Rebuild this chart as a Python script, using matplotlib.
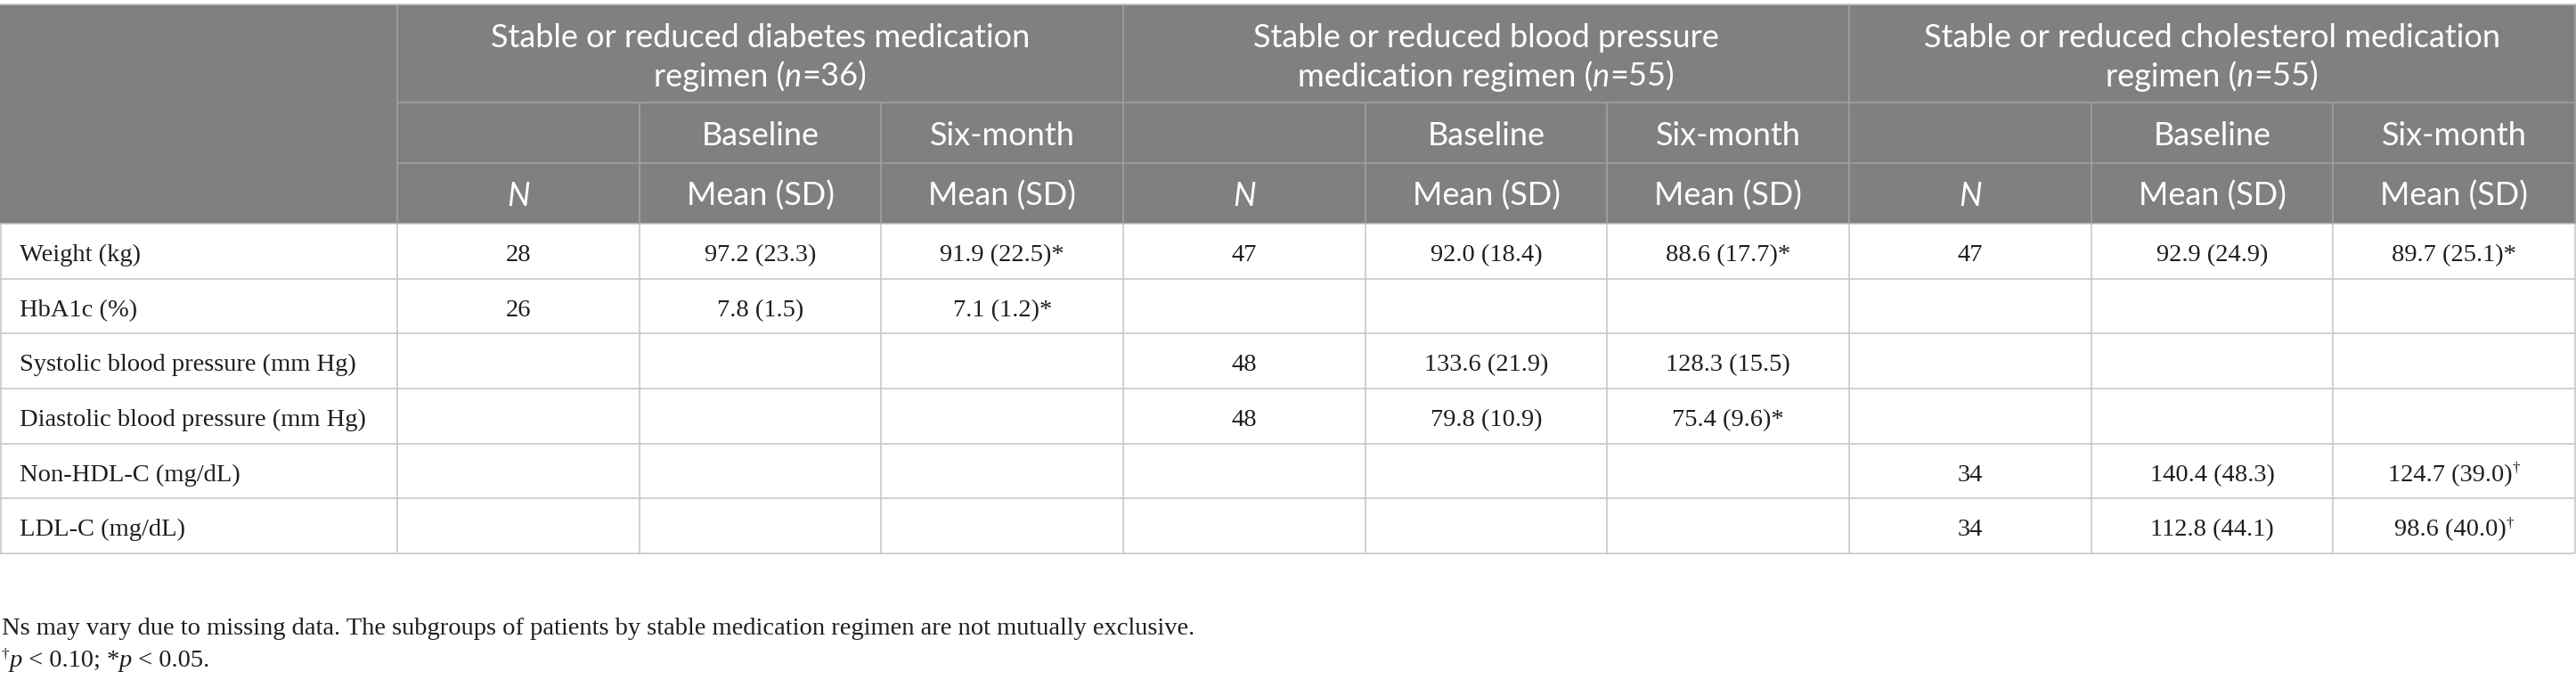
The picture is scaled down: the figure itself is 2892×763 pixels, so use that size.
import matplotlib
matplotlib.use("Agg")
import matplotlib.pyplot as plt
from matplotlib.patches import Rectangle

# ---------------- data ----------------
row_labels = ["Weight (kg)", "HbA1c (%)", "Systolic blood pressure (mm Hg)",
              "Diastolic blood pressure (mm Hg)", "Non-HDL-C (mg/dL)", "LDL-C (mg/dL)"]

group_line1 = ["Stable or reduced diabetes medication",
               "Stable or reduced blood pressure",
               "Stable or reduced cholesterol medication"]
group_line2 = ["regimen", "medication regimen", "regimen"]
group_n = [36, 55, 55]

sub_headers = ["", "Baseline", "Six-month"]
stat_headers = ["N", "Mean (SD)", "Mean (SD)"]

# diabetes subgroup
dm_n = [28, 26, None, None, None, None]
dm_base_mean = [97.2, 7.8, None, None, None, None]
dm_base_sd = [23.3, 1.5, None, None, None, None]
dm_six_mean = [91.9, 7.1, None, None, None, None]
dm_six_sd = [22.5, 1.2, None, None, None, None]
dm_sig = ["*", "*", "", "", "", ""]

# blood pressure subgroup
bp_n = [47, None, 48, 48, None, None]
bp_base_mean = [92.0, None, 133.6, 79.8, None, None]
bp_base_sd = [18.4, None, 21.9, 10.9, None, None]
bp_six_mean = [88.6, None, 128.3, 75.4, None, None]
bp_six_sd = [17.7, None, 15.5, 9.6, None, None]
bp_sig = ["*", "", "", "*", "", ""]

# cholesterol subgroup
ch_n = [47, None, None, None, 34, 34]
ch_base_mean = [92.9, None, None, None, 140.4, 112.8]
ch_base_sd = [24.9, None, None, None, 48.3, 44.1]
ch_six_mean = [89.7, None, None, None, 124.7, 98.6]
ch_six_sd = [25.1, None, None, None, 39.0, 40.0]
ch_sig = ["*", "", "", "", "\u2020", "\u2020"]

footnote1 = ("Ns may vary due to missing data. The subgroups of patients by stable "
             "medication regimen are not mutually exclusive.")

groups = [
    (dm_n, dm_base_mean, dm_base_sd, dm_six_mean, dm_six_sd, dm_sig),
    (bp_n, bp_base_mean, bp_base_sd, bp_six_mean, bp_six_sd, bp_sig),
    (ch_n, ch_base_mean, ch_base_sd, ch_six_mean, ch_six_sd, ch_sig),
]

# ---------------- layout / style ----------------
W, H = 2892, 763
HEADER_BG = "#7f807f"
HEADER_LINE = "#a3a4a3"
BODY_LINE = "#c4c4c4"
TEXT = "#1e1e1e"
SANS = ["Lato", "DejaVu Sans"]
SERIF = ["Liberation Serif", "DejaVu Serif"]
FS_HEAD = 26
FS_BODY = 20.5
LW = 1.1

x_first = 446
x_right = 2891
ncols = 9
step = (x_right - x_first) / ncols
col_edges = [0] + [x_first + i * step for i in range(ncols + 1)]

y_top = 5
y_h1, y_h2, y_h3 = 115, 183, 251
nrows = len(row_labels)
y_bottom = 621
rstep = (y_bottom - y_h3) / nrows
row_edges = [y_h3 + i * rstep for i in range(nrows + 1)]

fig = plt.figure(figsize=(W / 100, H / 100), dpi=100)
ax = fig.add_axes([0, 0, 1, 1])
ax.set_xlim(0, W)
ax.set_ylim(H, 0)
ax.axis("off")
fig.canvas.draw()
renderer = fig.canvas.get_renderer()


def adv(s, **kw):
    """advance width of string s in pixels (including spaces)."""
    t1 = ax.text(0, 0, "|" + s + "|", **kw)
    t2 = ax.text(0, 0, "||", **kw)
    w = t1.get_window_extent(renderer).width - t2.get_window_extent(renderer).width
    t1.remove()
    t2.remove()
    return w


def draw_runs(x, y, runs, ha="center"):
    widths = [adv(s, **kw) for s, kw, dy in runs]
    total = sum(widths)
    cx = x - total / 2 if ha == "center" else x
    for (s, kw, dy), w in zip(runs, widths):
        ax.text(cx, y + dy, s, ha="left", va="baseline", **kw)
        cx += w


head_kw = dict(family=SANS, fontsize=FS_HEAD, color="white")
head_it = dict(family=SANS, fontsize=FS_HEAD, color="white", style="italic")
body_kw = dict(family=SERIF, fontsize=FS_BODY, color=TEXT)
body_it = dict(family=SERIF, fontsize=FS_BODY, color=TEXT, style="italic")
sup_kw = dict(family=SERIF, fontsize=FS_BODY * 0.6, color=TEXT)

# header background
ax.add_patch(Rectangle((0, y_top), W, y_h3 - y_top, facecolor=HEADER_BG,
                       edgecolor="none", zorder=0))
# top border
ax.hlines(y_top, 0, W, color=BODY_LINE, lw=LW)

# header lines
ax.hlines([y_h1, y_h2], col_edges[1], x_right, color=HEADER_LINE, lw=LW)
for i, xe in enumerate(col_edges[1:]):
    if (i % 3) == 0:
        ax.vlines(xe, y_top, y_h3, color=HEADER_LINE, lw=LW)
    else:
        ax.vlines(xe, y_h1, y_h3, color=HEADER_LINE, lw=LW)

# body lines
ax.hlines(row_edges, 0, x_right, color=BODY_LINE, lw=LW, zorder=1)
ax.vlines([1] + col_edges[1:], y_h3, y_bottom, color=BODY_LINE, lw=LW)

# group headers
for g in range(3):
    x0 = col_edges[1 + 3 * g]
    x1 = col_edges[4 + 3 * g]
    xc = (x0 + x1) / 2
    ax.text(xc, 53, group_line1[g], ha="center", va="baseline", **head_kw)
    draw_runs(xc, 97, [(group_line2[g] + " (", head_kw, 0),
                       ("n", head_it, 0),
                       ("=%d)" % group_n[g], head_kw, 0)])
    for k in range(3):
        cxk = (col_edges[1 + 3 * g + k] + col_edges[2 + 3 * g + k]) / 2
        if sub_headers[k]:
            ax.text(cxk, 163, sub_headers[k], ha="center", va="baseline", **head_kw)
        kw = head_it if stat_headers[k] == "N" else head_kw
        ax.text(cxk, 231, stat_headers[k], ha="center", va="baseline", **kw)

# body
for r, lab in enumerate(row_labels):
    yb = row_edges[r] + 42
    ax.text(22, yb, lab, ha="left", va="baseline", **body_kw)
    for g, (n, bm, bs, sm, ss, sig) in enumerate(groups):
        cols = [(col_edges[1 + 3 * g + k] + col_edges[2 + 3 * g + k]) / 2 for k in range(3)]
        if n[r] is not None:
            ax.text(cols[0], yb, str(n[r]), ha="center", va="baseline", **body_kw)
        if bm[r] is not None:
            ax.text(cols[1], yb, "%.1f (%.1f)" % (bm[r], bs[r]), ha="center",
                    va="baseline", **body_kw)
        if sm[r] is not None:
            base = "%.1f (%.1f)" % (sm[r], ss[r])
            if sig[r] == "*":
                draw_runs(cols[2], yb, [(base + "*", body_kw, 0)])
            elif sig[r]:
                draw_runs(cols[2], yb, [(base, body_kw, 0), (sig[r], sup_kw, -10)])
            else:
                ax.text(cols[2], yb, base, ha="center", va="baseline", **body_kw)

# footnotes
ax.text(2, 712, footnote1, ha="left", va="baseline", **body_kw)
draw_runs(2, 748, [("\u2020", sup_kw, -10), ("p", body_it, 0),
                   (" < 0.10; *", body_kw, 0), ("p", body_it, 0),
                   (" < 0.05.", body_kw, 0)], ha="left")

fig.savefig("out.png", dpi=100)
